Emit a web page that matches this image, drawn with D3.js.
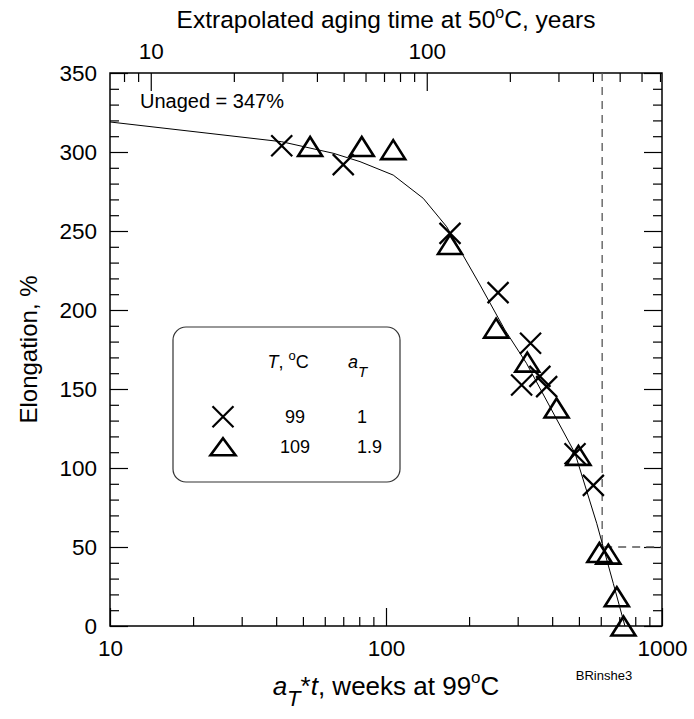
<!DOCTYPE html>
<html>
<head>
<meta charset="utf-8">
<script src="https://cdn.jsdelivr.net/npm/d3@7"></script>
<style>
  html, body { margin: 0; padding: 0; background: #fff; }
  svg { display: block; font-family: "Liberation Sans", Arial, Helvetica, sans-serif; }
</style>
</head>
<body>
<svg id="chart" width="694" height="719"></svg>
<script>
// Elongation at break vs shifted aging time (reference temperature 99 °C)
const weeks99  = [41.9, 70.0, 170.6, 254.7, 334, 310, 361, 382, 484, 564];
const elong99  = [304, 292, 248.5, 211, 179, 152.5, 158, 151.5, 109, 89];
const weeks109 = [53.1, 81.7, 106.2, 170.6, 250.6, 325, 415, 498, 593, 639, 686, 725];
const elong109 = [303.5, 303.5, 301.5, 241.5, 188.5, 167, 138, 108, 46.5, 45.5, 18.5, 0];

// Fitted master curve
const curveWeeks = [10, 41.9, 64.4, 80.5, 106.2, 136.4, 165.9, 219.2, 269.8, 322.8, 484, 580, 612, 666, 734];
const curveElong = [319, 306.5, 299.2, 293.9, 285.4, 270.7, 252.7, 215.8, 187.3, 166.3, 109.3, 65, 50.2, 27, 0];

// Time to reach the 50 % elongation criterion
const endpointWeeks = 607;
const endpointElong = 50;

// Conversion of weeks at 99 °C to years at 50 °C
const weeksPer50CYear = 1.405;

const xMajor = [10, 100, 1000];
const xMinor = [20, 30, 40, 50, 60, 70, 80, 90, 200, 300, 400, 500, 600, 700, 800, 900];
const topMajor = [10, 100];
const topMinor = [8, 9, 20, 30, 40, 50, 60, 70, 80, 90, 200, 300, 400, 500, 600, 700];
const yMajor = [0, 50, 100, 150, 200, 250, 300, 350];
const yMinor = d3.range(0, 351, 10).filter(v => v % 50 !== 0);

const legendRows = [
  { symbol: "cross", temp: "99", aT: "1" },
  { symbol: "triangle", temp: "109", aT: "1.9" }
];

const L = 110, R = 662, T = 73, B = 626;
const svg = d3.select("#chart");

const x = d3.scaleLog().domain([10, 1000]).range([L, R]);
const xTop = d3.scaleLog().domain([10 / weeksPer50CYear, 1000 / weeksPer50CYear]).range([L, R]);
const y = d3.scaleLinear().domain([0, 350]).range([B, T]);

const tickFont = 22.5, majorLen = 18, minorLen = 9;

function styleAxis(g) {
  g.select(".domain").remove();
  g.selectAll("line").attr("stroke", "#000").attr("stroke-width", 1.2);
  g.selectAll("text").attr("fill", "#000").attr("font-size", tickFont).attr("font-family", null);
}

// bottom axis
svg.append("g").attr("transform", `translate(0,${B})`)
  .call(d3.axisBottom(x).tickValues(xMajor).tickFormat(d3.format("d")).tickSizeInner(-majorLen).tickSizeOuter(0).tickPadding(14))
  .call(styleAxis);
svg.append("g").attr("transform", `translate(0,${B})`)
  .call(d3.axisBottom(x).tickValues(xMinor).tickFormat("").tickSizeInner(-minorLen).tickSizeOuter(0))
  .call(styleAxis);

// top axis (years at 50 °C)
svg.append("g").attr("transform", `translate(0,${T})`)
  .call(d3.axisTop(xTop).tickValues(topMajor).tickFormat(d3.format("d")).tickSizeInner(-majorLen).tickSizeOuter(0).tickPadding(14))
  .call(styleAxis);
svg.append("g").attr("transform", `translate(0,${T})`)
  .call(d3.axisTop(xTop).tickValues(topMinor).tickFormat("").tickSizeInner(-minorLen).tickSizeOuter(0))
  .call(styleAxis);

// left axis
svg.append("g").attr("transform", `translate(${L},0)`)
  .call(d3.axisLeft(y).tickValues(yMajor).tickFormat(d3.format("d")).tickSizeInner(-majorLen).tickSizeOuter(0).tickPadding(13))
  .call(styleAxis);
svg.append("g").attr("transform", `translate(${L},0)`)
  .call(d3.axisLeft(y).tickValues(yMinor).tickFormat("").tickSizeInner(-minorLen).tickSizeOuter(0))
  .call(styleAxis);

// right axis
svg.append("g").attr("transform", `translate(${R},0)`)
  .call(d3.axisRight(y).tickValues(yMajor).tickFormat("").tickSizeInner(-majorLen).tickSizeOuter(0))
  .call(styleAxis);
svg.append("g").attr("transform", `translate(${R},0)`)
  .call(d3.axisRight(y).tickValues(yMinor).tickFormat("").tickSizeInner(-minorLen).tickSizeOuter(0))
  .call(styleAxis);

// frame
svg.append("rect").attr("x", L).attr("y", T).attr("width", R - L).attr("height", B - T)
  .attr("fill", "none").attr("stroke", "#000").attr("stroke-width", 1.5);

// endpoint guide lines
svg.append("path")
  .attr("d", `M${x(endpointWeeks)},${y(350)}V${y(endpointElong)}H${R}`)
  .attr("fill", "none").attr("stroke", "#555").attr("stroke-width", 1.3)
  .attr("stroke-dasharray", "8,6");

// master curve
const curveData = curveWeeks.map((w, i) => [w, curveElong[i]]);
svg.append("path")
  .datum(curveData)
  .attr("d", d3.line().x(d => x(d[0])).y(d => y(d[1])))
  .attr("fill", "none").attr("stroke", "#000").attr("stroke-width", 1);

// markers
function cross(g, cx, cy, h) {
  g.append("path").attr("d", `M${cx - h},${cy - h}L${cx + h},${cy + h}M${cx - h},${cy + h}L${cx + h},${cy - h}`)
    .attr("stroke", "#000").attr("stroke-width", 2.2).attr("fill", "none");
}
function triangle(g, cx, cy, w, h) {
  g.append("path").attr("d", `M${cx},${cy - h / 2}L${cx + w / 2},${cy + h / 2}L${cx - w / 2},${cy + h / 2}Z`)
    .attr("stroke", "#000").attr("stroke-width", 2.6).attr("fill", "none").attr("stroke-linejoin", "miter");
}

const marks = svg.append("g");
weeks99.forEach((w, i) => cross(marks, x(w), y(elong99[i]), 10.5));
weeks109.forEach((w, i) => triangle(marks, x(w), y(elong109[i]), 24, 19));

// unaged note
svg.append("text").attr("x", 140).attr("y", 108).attr("font-size", 20).text("Unaged = 347%");

// legend
const lg = svg.append("g");
lg.append("rect").attr("x", 173).attr("y", 327).attr("width", 227).attr("height", 155).attr("rx", 13)
  .attr("fill", "#fff").attr("stroke", "#333").attr("stroke-width", 1.2);
const hdr = lg.append("text").attr("x", 288).attr("y", 368).attr("font-size", 18).attr("text-anchor", "middle");
hdr.append("tspan").attr("font-style", "italic").text("T");
hdr.append("tspan").text(", ");
hdr.append("tspan").attr("font-size", 13).attr("dy", -8).text("o");
hdr.append("tspan").attr("dy", 8).text("C");
const hdr2 = lg.append("text").attr("x", 348).attr("y", 368).attr("font-size", 18);
hdr2.append("tspan").attr("font-style", "italic").text("a");
hdr2.append("tspan").attr("font-style", "italic").attr("font-size", 15).attr("dy", 9).text("T");

const rowY = [416.7, 446.7];
legendRows.forEach((r, i) => {
  if (r.symbol === "cross") cross(lg, 223, rowY[i], 10.5);
  else triangle(lg, 223, rowY[i], 25, 17);
  lg.append("text").attr("x", 295).attr("y", rowY[i] + 6.5).attr("font-size", 18).attr("text-anchor", "middle").text(r.temp);
  lg.append("text").attr("x", 357).attr("y", rowY[i] + 6.5).attr("font-size", 18).text(r.aT);
});

// axis titles
const bt = svg.append("text").attr("x", (L + R) / 2).attr("y", 695).attr("font-size", 26).attr("text-anchor", "middle");
bt.append("tspan").attr("font-style", "italic").text("a");
bt.append("tspan").attr("font-style", "italic").attr("font-size", 22).attr("dy", 11).text("T");
bt.append("tspan").attr("dy", -11).text("*");
bt.append("tspan").attr("font-style", "italic").text("t");
bt.append("tspan").text(", weeks at 99");
bt.append("tspan").attr("font-size", 17).attr("dy", -12).text("o");
bt.append("tspan").attr("dy", 12).text("C");

const tt = svg.append("text").attr("x", (L + R) / 2).attr("y", 28).attr("font-size", 24.5).attr("text-anchor", "middle");
tt.append("tspan").text("Extrapolated aging time at 50");
tt.append("tspan").attr("font-size", 16).attr("dy", -10).text("o");
tt.append("tspan").attr("dy", 10).text("C, years");

svg.append("text").attr("transform", `translate(37,${(T + B) / 2}) rotate(-90)`)
  .attr("font-size", 24).attr("text-anchor", "middle").text("Elongation, %");

svg.append("text").attr("x", 604).attr("y", 680).attr("font-size", 13).attr("text-anchor", "middle").text("BRinshe3");
</script>
</body>
</html>
